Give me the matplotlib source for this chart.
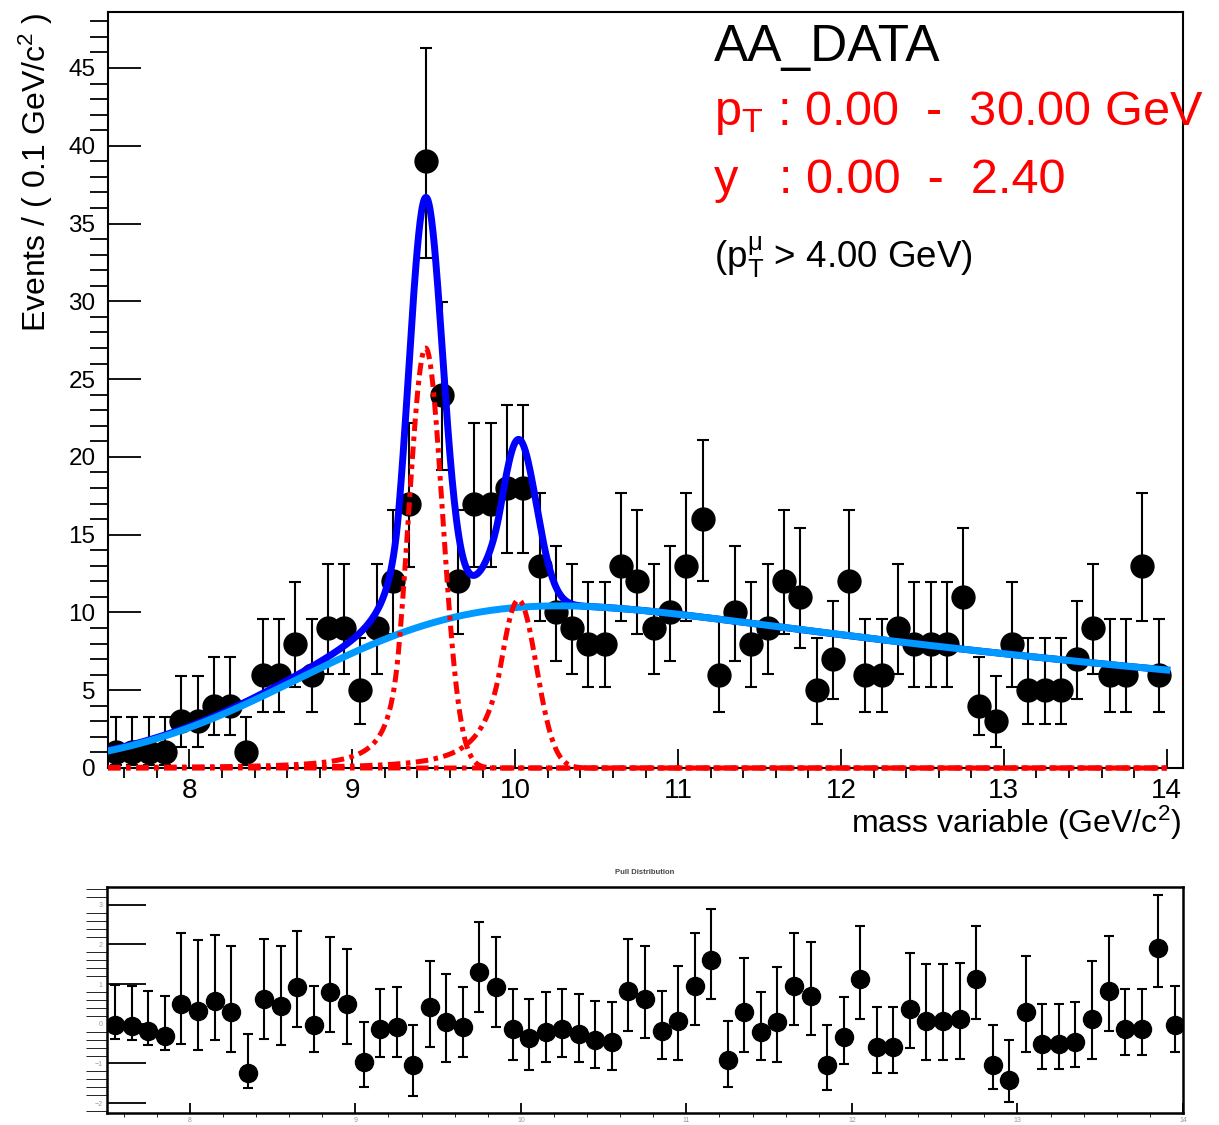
import math
import numpy as np
import matplotlib.pyplot as plt
from matplotlib.ticker import MultipleLocator

plt.rcParams['font.family'] = ['Liberation Sans', 'DejaVu Sans']
plt.rcParams['mathtext.fontset'] = 'custom'
plt.rcParams['mathtext.rm'] = 'Liberation Sans'
plt.rcParams['mathtext.it'] = 'Liberation Sans:italic'
plt.rcParams['mathtext.bf'] = 'Liberation Sans:bold'

# histogram: 0.1 GeV/c^2 bins from 7.5 to 14.0
mass_lo = 7.5
bin_width = 0.1
counts = [1, 1, 1, 1, 3, 3, 4, 4, 1, 6, 6, 8, 6, 9, 9, 5, 9, 12, 17, 39,
          24, 12, 17, 17, 18, 18, 13, 10, 9, 8, 8, 13, 12, 9, 10, 13, 16, 6, 10, 8,
          9, 12, 11, 5, 7, 12, 6, 6, 9, 8, 8, 8, 11, 4, 3, 8, 5, 5, 5, 7,
          9, 6, 6, 13, 6]
pulls = [-0.02, -0.05, -0.17, -0.3, 0.5, 0.33, 0.58, 0.3, -1.25, 0.62,
         0.46, 0.92, -0.04, 0.79, 0.5, -0.96, -0.12, -0.08, -1.04, 0.42,
         0.04, -0.08, 1.3, 0.92, -0.12, -0.37, -0.2, -0.12, -0.25, -0.42,
         -0.46, 0.83, 0.63, -0.17, 0.08, 0.96, 1.62, -0.92, 0.29, -0.21,
         0.04, 0.96, 0.71, -1.04, -0.33, 1.12, -0.58, -0.58, 0.38, 0.08,
         0.08, 0.12, 1.12, -1.04, -1.42, 0.29, -0.5, -0.5, -0.46, 0.12,
         0.83, -0.12, -0.12, 1.92, -0.04]

# fit result
bkg_norm, bkg_decay, bkg_turnon, bkg_width = 54.3, 6.5, 8.9, 1.3
peak_mean = [9.45, 10.02, 10.36]
peak_sigma = [0.104, 0.11, 0.117]
peak_height = [27.0, 10.8, 0.0]
peak_alpha = [1.6, 1.0, 1.0]
peak_n = [2.0, 3.0, 3.0]

erf = np.vectorize(math.erf)


def background(x):
    return bkg_norm * np.exp(-x / bkg_decay) * 0.5 * (1 + erf((x - bkg_turnon) / bkg_width))


def crystal_ball(x, mean, sigma, alpha, n):
    t = (x - mean) / sigma
    a = (n / alpha) ** n * np.exp(-alpha ** 2 / 2)
    b = n / alpha - alpha
    out = np.exp(-t ** 2 / 2)
    tail = t < -alpha
    out[tail] = a * (b - t[tail]) ** (-n)
    return out


n = np.array(counts, float)
centers = mass_lo + bin_width * (np.arange(len(counts)) + 0.5)
# poisson intervals
err_lo = n - n * (1 - 1 / (9 * n) - 1 / (3 * np.sqrt(n))) ** 3
err_hi = (n + 1) * (1 - 1 / (9 * (n + 1)) + 1 / (3 * np.sqrt(n + 1))) ** 3 - n

p = np.array(pulls)
pull_lo = np.where(p >= 0, 1.0, err_lo / err_hi)
pull_hi = np.where(p >= 0, err_hi / err_lo, 1.0)

xs = np.linspace(7.5, 14.0, 1500)
bkg = background(xs)
sig = [h * crystal_ball(xs, m, s, a, k)
       for m, s, h, a, k in zip(peak_mean, peak_sigma, peak_height, peak_alpha, peak_n)]
total = bkg + sum(sig)

W, H = 1219, 1125
fig = plt.figure(figsize=(W / 100, H / 100), dpi=100)


def box(l, t, r, b):
    return [l / W, 1 - b / H, (r - l) / W, (b - t) / H]


ax = fig.add_axes(box(108, 12, 1183, 768))
ax.errorbar(centers, counts, yerr=[err_lo, err_hi], fmt='o', color='black',
            ms=16.5, elinewidth=1.5, capsize=4.3, capthick=1.5, zorder=2)
ax.plot(xs, total, color='#0000ff', lw=5, zorder=3)
ax.plot(xs, bkg, color='#0099ff', lw=5, zorder=4)
for s in sig:
    ax.plot(xs, s, color='#ff0000', lw=3.6, ls=(0, (2.5, 1.1, 0.9, 1.1)),
            zorder=5, clip_on=False)

ax.set_xlim(7.5, 14.1)
ax.set_ylim(0, 48.6)
ax.xaxis.set_major_locator(MultipleLocator(1))
ax.xaxis.set_minor_locator(MultipleLocator(0.2))
ax.yaxis.set_major_locator(MultipleLocator(5))
ax.yaxis.set_minor_locator(MultipleLocator(1))
ax.tick_params(direction='in', top=False, right=False, width=1.3)
ax.tick_params(axis='y', which='major', length=24, pad=9, labelsize=17.5)
ax.tick_params(axis='y', which='minor', length=13, width=1.3)
ax.tick_params(axis='x', which='major', length=14, pad=7, labelsize=20)
ax.tick_params(axis='x', which='minor', length=7, width=1.3)
for sp in ax.spines.values():
    sp.set_linewidth(1.5)

fig.text(36 / W, 1 - 12 / H, r'Events / ( 0.1 GeV/c$^{2}$ )', rotation=90,
         ha='center', va='top', fontsize=23)
fig.text(1181 / W, 1 - 823 / H, r'mass variable (GeV/c$^{2}$)',
         ha='right', va='center', fontsize=23)

fig.text(714 / W, 1 - 61 / H, 'AA_DATA', fontsize=37, ha='left', va='baseline')
fig.text(714 / W, 1 - 125 / H, r'p$_\mathrm{T}$ : 0.00  -  30.00 GeV', color='#ff0000',
         fontsize=35, ha='left', va='baseline')
fig.text(714 / W, 1 - 193 / H, r'y   : 0.00  -  2.40', color='#ff0000',
         fontsize=35, ha='left', va='baseline')
fig.text(714 / W, 1 - 268 / H, r'(p$_\mathrm{T}^\mathrm{\mu}$ > 4.00 GeV)',
         fontsize=26.5, ha='left', va='baseline')

# pull panel
ax2 = fig.add_axes(box(107, 887, 1183, 1113))
ax2.errorbar(centers, pulls, yerr=[pull_lo, pull_hi], fmt='o', color='black',
             ms=13, elinewidth=1.5, capsize=3.6, capthick=1.5)
ax2.set_xlim(7.5, 14.0)
ax2.set_ylim(-2.25, 3.45)
ax2.xaxis.set_major_locator(MultipleLocator(1))
ax2.xaxis.set_minor_locator(MultipleLocator(0.2))
ax2.yaxis.set_major_locator(MultipleLocator(1))
ax2.yaxis.set_minor_locator(MultipleLocator(0.2))
ax2.tick_params(direction='in', top=False, right=False, labelsize=5,
                labelcolor='#999999', width=1.3, pad=3)
ax2.tick_params(axis='y', which='major', length=28)
ax2.tick_params(axis='y', which='minor', length=15)
ax2.tick_params(axis='x', which='major', length=7)
ax2.tick_params(axis='x', which='minor', length=3)
for sp in ax2.spines.values():
    sp.set_linewidth(1.8)
fig.text(645 / W, 1 - 872 / H, 'Pull Distribution', fontsize=5.5,
         fontweight='bold', color='#444444', ha='center', va='center')

fig.savefig('out.png', dpi=100)
